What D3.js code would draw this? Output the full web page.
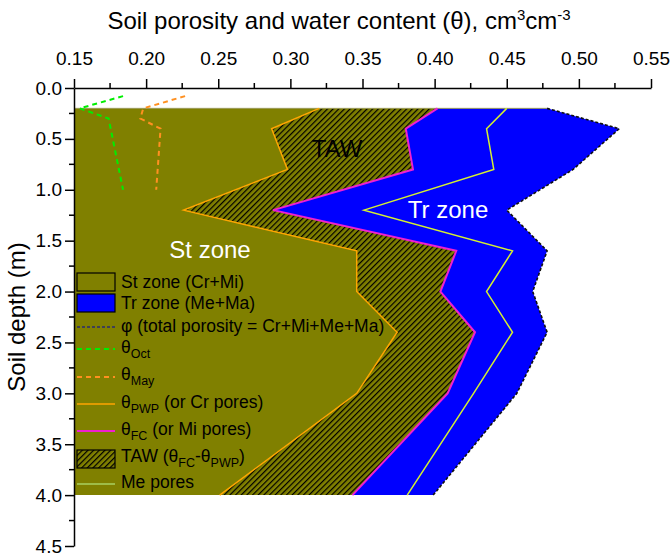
<!DOCTYPE html>
<html>
<head>
<meta charset="utf-8">
<script src="https://cdn.jsdelivr.net/npm/d3@7"></script>
<style>
  body { margin: 0; background: #fff; }
  svg { font-family: "Liberation Sans", Arial, sans-serif; }
</style>
</head>
<body>
<div id="chart"></div>
<script>
// depth of each profile point (m)
const depths = [0.2, 0.4, 0.8, 1.2, 1.6, 2.0, 2.4, 3.0, 4.0]
const pwp = [0.320, 0.287, 0.298, 0.226, 0.346, 0.346, 0.374, 0.346, 0.251]
const fc = [0.402, 0.380, 0.385, 0.288, 0.415, 0.404, 0.428, 0.409, 0.343]
const mePores = [0.450, 0.436, 0.441, 0.351, 0.454, 0.436, 0.454, 0.427, 0.381]
const phi = [0.478, 0.528, 0.496, 0.450, 0.478, 0.468, 0.478, 0.457, 0.399]

const octDepths = [0.08, 0.2, 0.3, 1.0]
const octTheta = [0.184, 0.154, 0.174, 0.184]
const mayDepths = [0.08, 0.2, 0.3, 0.4, 1.0]
const mayTheta = [0.227, 0.198, 0.196, 0.210, 0.207]

const xTicks = [0.15, 0.20, 0.25, 0.30, 0.35, 0.40, 0.45, 0.50, 0.55]
const yTicks = [0.0, 0.5, 1.0, 1.5, 2.0, 2.5, 3.0, 3.5, 4.0, 4.5]

const width = 670
const height = 559
const padLeft = 74
const padRight = 651
const padTop = 88
const padBottom = 546

const x = d3.scaleLinear().domain([0.15, 0.55]).range([padLeft, padRight])
const y = d3.scaleLinear().domain([0, 4.5]).range([padTop, padBottom])

const olive = '#808000'
const rows = depths.map((d, i) => ({ d: d, pwp: pwp[i], fc: fc[i], me: mePores[i], phi: phi[i] }))

const svg = d3.select('#chart')
    .append('svg')
    .attr('width', width)
    .attr('height', height)

const defs = svg.append('defs')
const hatch = defs.append('pattern')
    .attr('id', 'hatch')
    .attr('patternUnits', 'userSpaceOnUse')
    .attr('width', 4)
    .attr('height', 4)
    .attr('patternTransform', 'rotate(45)')
hatch.append('rect').attr('width', 4).attr('height', 4).attr('fill', olive)
hatch.append('line')
    .attr('x1', 0).attr('y1', 0).attr('x2', 0).attr('y2', 4)
    .attr('stroke', '#000').attr('stroke-width', 2.4)

// zones
const area = (a, b) => d3.area().y((r) => y(r.d)).x0(a).x1(b)
svg.append('path').datum(rows)
    .attr('d', area(() => x(0.15), (r) => x(r.pwp)))
    .attr('fill', olive)
svg.append('path').datum(rows)
    .attr('d', area((r) => x(r.pwp), (r) => x(r.fc)))
    .attr('fill', 'url(#hatch)')
svg.append('path').datum(rows)
    .attr('d', area((r) => x(r.fc), (r) => x(r.phi)))
    .attr('fill', '#0000ff')
// light top edge of the profile
svg.append('line')
    .attr('x1', x(0.15)).attr('x2', x(phi[0])).attr('y1', y(depths[0])).attr('y2', y(depths[0]))
    .attr('stroke', '#9c9c5a').attr('stroke-width', 1)

const vline = (key) => d3.line().y((r) => y(r.d)).x((r) => x(r[key]))
svg.append('path').datum(rows).attr('d', vline('pwp'))
    .attr('fill', 'none').attr('stroke', '#ffa500').attr('stroke-width', 1.5)
svg.append('path').datum(rows).attr('d', vline('fc'))
    .attr('fill', 'none').attr('stroke', '#f020d0').attr('stroke-width', 2)
svg.append('path').datum(rows).attr('d', vline('me'))
    .attr('fill', 'none').attr('stroke', '#d4f030').attr('stroke-width', 1.5)
svg.append('path').datum(rows).attr('d', vline('phi'))
    .attr('fill', 'none').attr('stroke', '#111').attr('stroke-width', 1.6)
    .attr('stroke-dasharray', '3,2')

const profile = d3.line().y((p) => y(p[0])).x((p) => x(p[1]))
svg.append('path').datum(d3.zip(octDepths, octTheta)).attr('d', profile)
    .attr('fill', 'none').attr('stroke', '#00ee00').attr('stroke-width', 2)
    .attr('stroke-dasharray', '5,4')
svg.append('path').datum(d3.zip(mayDepths, mayTheta)).attr('d', profile)
    .attr('fill', 'none').attr('stroke', '#ff9020').attr('stroke-width', 2)
    .attr('stroke-dasharray', '5,4')

// zone labels
svg.append('text').attr('x', 210).attr('y', 258).attr('text-anchor', 'middle')
    .attr('font-size', 24).attr('fill', '#fff').text('St zone')
svg.append('text').attr('x', 448).attr('y', 218).attr('text-anchor', 'middle')
    .attr('font-size', 24).attr('fill', '#fff').text('Tr zone')
svg.append('text').attr('x', 337).attr('y', 157).attr('text-anchor', 'middle')
    .attr('font-size', 24).attr('fill', '#000').text('TAW')

// axes
const minorX = d3.range(0.175, 0.55, 0.05)
const minorY = d3.range(0.25, 4.5, 0.5)
const xAxis = svg.append('g').attr('transform', `translate(0, ${padTop})`)
    .call(d3.axisTop(x).tickValues(xTicks).tickFormat(d3.format('.2f')).tickSize(9).tickPadding(14).tickSizeOuter(0))
xAxis.append('g').selectAll('line').data(minorX).enter().append('line')
    .attr('x1', (d) => x(d)).attr('x2', (d) => x(d)).attr('y1', 0).attr('y2', -5)
    .attr('stroke', '#000').attr('stroke-width', 1.5)
const yAxis = svg.append('g').attr('transform', `translate(${padLeft}, 0)`)
    .call(d3.axisLeft(y).tickValues(yTicks).tickFormat(d3.format('.1f')).tickSize(9).tickPadding(3).tickSizeOuter(0))
yAxis.append('g').selectAll('line').data(minorY).enter().append('line')
    .attr('y1', (d) => y(d)).attr('y2', (d) => y(d)).attr('x1', 0).attr('x2', -5)
    .attr('stroke', '#000').attr('stroke-width', 1.5)
svg.selectAll('.domain').attr('stroke-width', 1.5)
svg.selectAll('.tick line').attr('stroke-width', 1.5)
svg.selectAll('.tick text').attr('font-size', 19).attr('font-family', '"Liberation Sans", Arial, sans-serif').attr('fill', '#000')

const title = svg.append('text').attr('x', 339).attr('y', 29).attr('text-anchor', 'middle').attr('font-size', 24)
title.append('tspan').text('Soil porosity and water content (θ), cm')
title.append('tspan').attr('dy', -9).attr('font-size', 15).text('3')
title.append('tspan').attr('dy', 9).text('cm')
title.append('tspan').attr('dy', -9).attr('font-size', 15).text('-3')

svg.append('text').attr('transform', `translate(25, ${(padTop + padBottom) / 2}) rotate(-90)`)
    .attr('text-anchor', 'middle').attr('font-size', 24).text('Soil depth (m)')

// legend
const lg = svg.append('g')
const sx0 = 77, sx1 = 115, tx = 121
const label = (yy, main, sub, rest) => {
    const t = lg.append('text').attr('x', tx).attr('y', yy + 6).attr('font-size', 17.5).attr('fill', '#000')
    t.append('tspan').text(main)
    if (sub) {
        t.append('tspan').attr('dy', 5).attr('font-size', 12.5).text(sub)
        t.append('tspan').attr('dy', -5).text(rest)
    }
    return t
}
lg.append('rect').attr('x', sx0).attr('y', 273).attr('width', sx1 - sx0).attr('height', 18)
    .attr('fill', olive).attr('stroke', '#000').attr('stroke-width', 1.2)
label(282, 'St zone (Cr+Mi)')
lg.append('rect').attr('x', sx0).attr('y', 294).attr('width', sx1 - sx0).attr('height', 18)
    .attr('fill', '#0000ff').attr('stroke', '#000').attr('stroke-width', 1.2)
label(303, 'Tr zone (Me+Ma)')
lg.append('line').attr('x1', sx0).attr('x2', sx1).attr('y1', 327).attr('y2', 327)
    .attr('stroke', '#2a2a70').attr('stroke-width', 1.5).attr('stroke-dasharray', '3,2')
label(326, 'φ (total porosity = Cr+Mi+Me+Ma)')
lg.append('line').attr('x1', sx0).attr('x2', sx1).attr('y1', 349).attr('y2', 349)
    .attr('stroke', '#00ee00').attr('stroke-width', 2).attr('stroke-dasharray', '5,4')
label(347, 'θ', 'Oct', '')
lg.append('line').attr('x1', sx0).attr('x2', sx1).attr('y1', 377).attr('y2', 377)
    .attr('stroke', '#ff9020').attr('stroke-width', 2).attr('stroke-dasharray', '5,4')
label(374, 'θ', 'May', '')
lg.append('line').attr('x1', sx0).attr('x2', sx1).attr('y1', 404).attr('y2', 404)
    .attr('stroke', '#ffa500').attr('stroke-width', 1.5)
label(402, 'θ', 'PWP', ' (or Cr pores)')
lg.append('line').attr('x1', sx0).attr('x2', sx1).attr('y1', 431).attr('y2', 431)
    .attr('stroke', '#f020d0').attr('stroke-width', 2)
label(429, 'θ', 'FC', ' (or Mi pores)')
lg.append('rect').attr('x', sx0).attr('y', 450).attr('width', sx1 - sx0).attr('height', 18)
    .attr('fill', 'url(#hatch)').attr('stroke', '#000').attr('stroke-width', 1.2)
const taw = label(456, 'TAW (θ', 'FC', '-θ')
taw.append('tspan').attr('dy', 5).attr('font-size', 12.5).text('PWP')
taw.append('tspan').attr('dy', -5).text(')')
lg.append('line').attr('x1', sx0).attr('x2', sx1).attr('y1', 484).attr('y2', 484)
    .attr('stroke', '#a8d060').attr('stroke-width', 1.5)
label(482, 'Me pores')
</script>
</body>
</html>
